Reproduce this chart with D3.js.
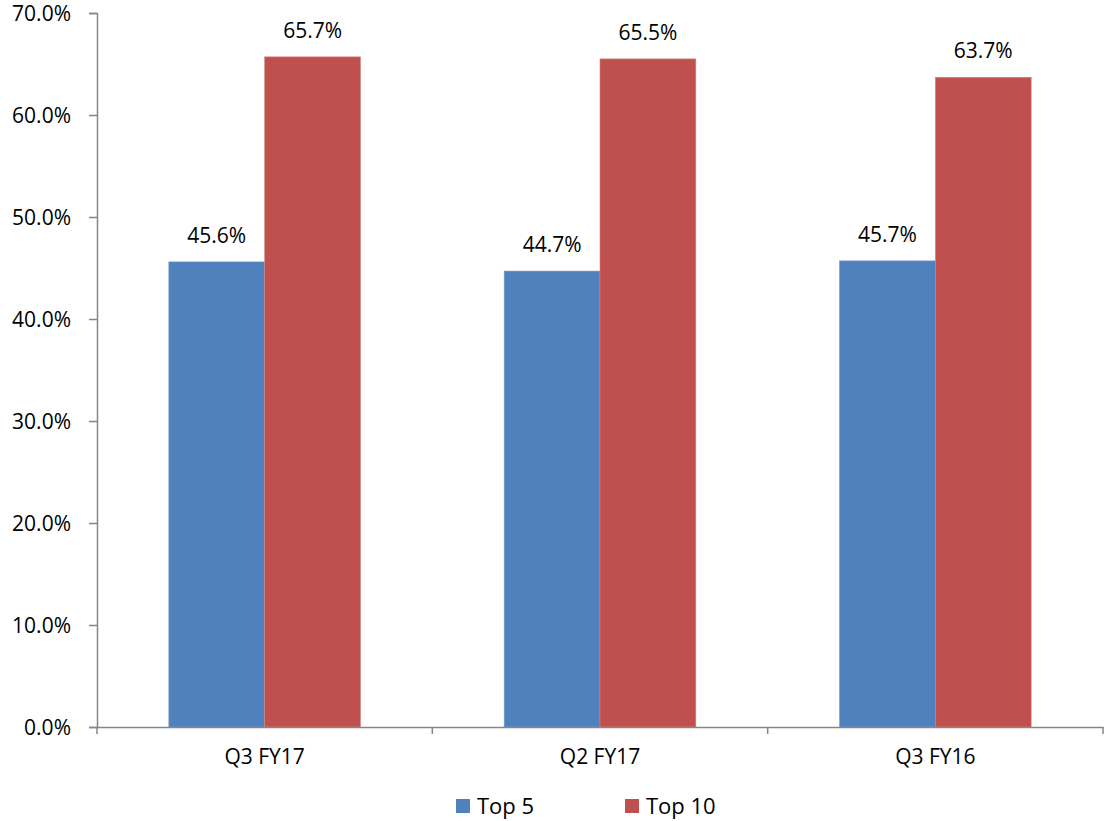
<!DOCTYPE html>
<html><head><meta charset="utf-8">
<script src="https://cdn.jsdelivr.net/npm/d3@7"></script>
<style>
html,body{margin:0;padding:0;background:#fff;}
text{font-family:"Open Sans","Liberation Sans",sans-serif;fill:#000;}
</style></head>
<body>
<svg id="chart" width="1105" height="821"></svg>
<script>
const categories = ["Q3 FY17", "Q2 FY17", "Q3 FY16"];
const seriesNames = ["Top 5", "Top 10"];
const top5 = [45.6, 44.7, 45.7];
const top10 = [65.7, 65.5, 63.7];
const yTicks = [0, 10, 20, 30, 40, 50, 60, 70];
const colors = ["#4F81BD", "#C0504D"];

(function(){
const svg = d3.select("#chart");
const mLeft = 97, mRight = 1103, mTop = 13, mBottom = 727;
const x = d3.scaleBand().domain(categories).range([mLeft, mRight]).paddingInner(0).paddingOuter(0);
const y = d3.scaleLinear().domain([0, 70]).range([mBottom, mTop]);
const sub = d3.scaleBand().domain(seriesNames).range([0, x.bandwidth()]).paddingInner(0).paddingOuter(0.7495);
const fs = 21;

// y axis
const yAxis = svg.append("g").attr("transform", `translate(${mLeft},0)`)
  .call(d3.axisLeft(y).tickValues(yTicks).tickSize(8).tickPadding(18).tickFormat(d => d.toFixed(1) + "%"));
yAxis.select(".domain").attr("stroke", "#868686").attr("stroke-width", 1.5);
yAxis.selectAll(".tick line").attr("stroke", "#868686").attr("stroke-width", 1.5);
yAxis.selectAll(".tick text").attr("font-size", fs).attr("font-family", "'Open Sans',sans-serif").attr("fill", "#000").attr("dy", "0.36em");

// bars
const data = categories.map((c, i) => ({c, vals: [top5[i], top10[i]]}));
const g = svg.append("g");
data.forEach(d => {
  d.vals.forEach((v, j) => {
    g.append("rect")
      .attr("x", x(d.c) + sub(seriesNames[j]))
      .attr("y", y(v))
      .attr("width", sub.bandwidth())
      .attr("height", y(0) - y(v))
      .attr("fill", colors[j])
      .attr("stroke", j === 0 ? "#7FA0CC" : "#D48683")
      .attr("stroke-width", 0.6);
    g.append("text")
      .attr("x", x(d.c) + sub(seriesNames[j]) + sub.bandwidth() / 2)
      .attr("y", y(v) - 19)
      .attr("text-anchor", "middle")
      .attr("font-size", fs)
      .text(v.toFixed(1) + "%");
  });
});

// x axis
const xAxis = svg.append("g").attr("transform", `translate(0,${mBottom})`)
  .call(d3.axisBottom(x).tickSize(0).tickPadding(22));
xAxis.select(".domain").attr("stroke", "#868686").attr("stroke-width", 1.5);
xAxis.selectAll(".tick text").attr("font-size", fs).attr("font-family", "'Open Sans',sans-serif").attr("fill", "#000");
const bounds = [mLeft].concat(categories.map(c => x(c) + x.bandwidth()));
svg.append("g").selectAll("line").data(bounds).join("line")
  .attr("x1", d => d).attr("x2", d => d)
  .attr("y1", mBottom).attr("y2", mBottom + 7)
  .attr("stroke", "#868686").attr("stroke-width", 1.5);

// legend
const legendX = [456, 625];
const lg = svg.append("g");
seriesNames.forEach((s, i) => {
  lg.append("rect").attr("x", legendX[i]).attr("y", 799).attr("width", 14).attr("height", 14).attr("fill", colors[i]);
  lg.append("text").attr("x", legendX[i] + 21).attr("y", 806).attr("dy", "0.36em").attr("font-size", 22).text(s);
});
})();
</script>
</body></html>
